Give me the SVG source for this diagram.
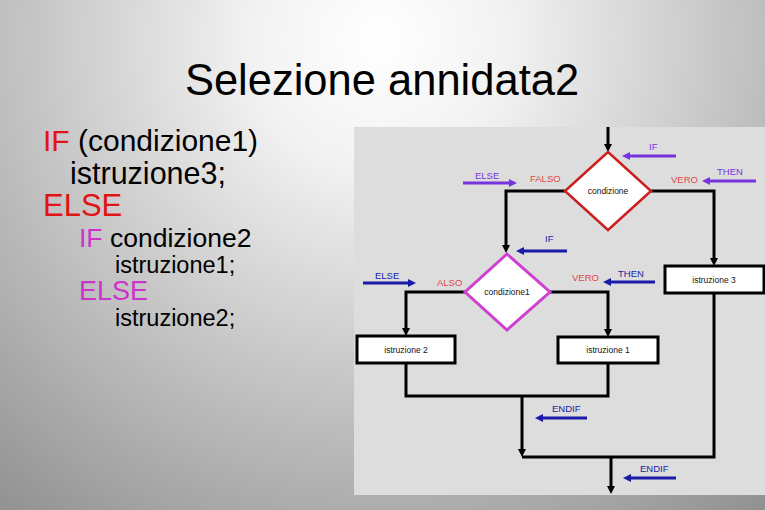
<svg xmlns="http://www.w3.org/2000/svg" width="765" height="510" viewBox="0 0 765 510">
<defs>
<radialGradient id="bg" gradientUnits="userSpaceOnUse" cx="380" cy="40" r="640">
<stop offset="0" stop-color="#ffffff"/>
<stop offset="0.2" stop-color="#f2f2f2"/>
<stop offset="1" stop-color="#8a8a8a"/>
</radialGradient>
<marker id="ak" markerUnits="userSpaceOnUse" markerWidth="9" markerHeight="8" refX="2" refY="4" orient="auto"><path d="M0,0 L8,4 L0,8 z" fill="#000"/></marker>
<marker id="ap" markerUnits="userSpaceOnUse" markerWidth="9" markerHeight="8" refX="2" refY="4" orient="auto"><path d="M0,0 L8,4 L0,8 z" fill="#7733dd"/></marker>
<marker id="ab" markerUnits="userSpaceOnUse" markerWidth="9" markerHeight="8" refX="2" refY="4" orient="auto"><path d="M0,0 L8,4 L0,8 z" fill="#1a1aa8"/></marker>
</defs>
<style>
.t{font-family:"Liberation Sans",Arial,sans-serif}
.red{fill:#e01414}
.pink{fill:#cc33cc}
.blk{fill:#000}
.conn{fill:none;stroke:#000;stroke-width:3}
.box{fill:#fff;stroke:#000;stroke-width:3}
.nt{font-family:"Liberation Sans",Arial,sans-serif;font-size:8.5px;fill:#111;text-anchor:middle}
.lb{font-family:"Liberation Sans",Arial,sans-serif;font-size:9.5px}
.lp{fill:#7733dd}
.lbl{fill:#1a1aa8}
.lr{fill:#e04848}
.pa{fill:none;stroke:#7733dd;stroke-width:3;marker-end:url(#ap)}
.ba{fill:none;stroke:#1a1aa8;stroke-width:3;marker-end:url(#ab)}
</style>
<rect x="0" y="0" width="765" height="510" fill="url(#bg)"/>
<text class="t" x="382" y="95" font-size="43.5" text-anchor="middle" fill="#000">Selezione annidata2</text>
<g id="code" class="t">
<text x="43" y="151" font-size="30"><tspan class="red">IF</tspan><tspan class="blk"> (condizione1)</tspan></text>
<text x="70" y="184" font-size="30.5" class="blk">istruzione3;</text>
<text x="43" y="216" font-size="31" class="red">ELSE</text>
<text x="79" y="247" font-size="26.5"><tspan class="pink">IF</tspan><tspan class="blk"> condizione2</tspan></text>
<text x="115" y="273" font-size="23.5" class="blk">istruzione1;</text>
<text x="79" y="300" font-size="27" class="pink">ELSE</text>
<text x="115" y="326" font-size="23.5" class="blk">istruzione2;</text>
</g>
<rect x="354" y="127" width="411" height="368" fill="#dddddd"/>
<g id="connectors">
<path class="conn" d="M608,127 V146" marker-end="url(#ak)"/>
<path class="conn" d="M565,191 H506 V247" marker-end="url(#ak)"/>
<path class="conn" d="M651,191 H714 V260" marker-end="url(#ak)"/>
<path class="conn" d="M465,292 H406 V330" marker-end="url(#ak)"/>
<path class="conn" d="M550,292 H608 V331" marker-end="url(#ak)"/>
<path class="conn" d="M406,363 V396 H608 V363"/>
<path class="conn" d="M522,396 V451" marker-end="url(#ak)"/>
<path class="conn" d="M714,293 V457 H522"/>
<path class="conn" d="M611,457 V488" marker-end="url(#ak)"/>
</g>
<g id="cond1">
<polygon points="608,152 651,191 608,230 565,191" fill="#fff" stroke="#cc2020" stroke-width="2.5"/>
<text class="nt" x="608" y="194">condizione</text>
</g>
<g id="cond2">
<polygon points="507,254 550,292 507,330 465,292" fill="#fff" stroke="#d040d0" stroke-width="3"/>
<text class="nt" x="507" y="295">condizione1</text>
</g>
<g id="istr3">
<rect class="box" x="665" y="266" width="99" height="27"/>
<text class="nt" x="714" y="283">istruzione 3</text>
</g>
<g id="istr2">
<rect class="box" x="357" y="336" width="98" height="27"/>
<text class="nt" x="406" y="353">istruzione 2</text>
</g>
<g id="istr1">
<rect class="box" x="558" y="337" width="100" height="26"/>
<text class="nt" x="608" y="353">istruzione 1</text>
</g>
<g id="labels">
<path class="pa" d="M676,156 H628"/>
<text class="lb lp" x="649" y="150">IF</text>
<path class="pa" d="M756,181 H708"/>
<text class="lb lp" x="717" y="175">THEN</text>
<text class="lb lr" x="671" y="183">VERO</text>
<path class="pa" d="M463,183 H511"/>
<text class="lb lp" x="475" y="179">ELSE</text>
<text class="lb lr" x="530" y="182">FALSO</text>
<path class="ba" d="M567,251 H522"/>
<text class="lb lbl" x="545" y="242">IF</text>
<path class="ba" d="M363,283 H410"/>
<text class="lb lbl" x="375" y="279">ELSE</text>
<text class="lb lr" x="437" y="286">ALSO</text>
<text class="lb lr" x="572" y="281">VERO</text>
<path class="ba" d="M655,282 H609"/>
<text class="lb lbl" x="618" y="277">THEN</text>
<path class="ba" d="M587,418 H541"/>
<text class="lb lbl" x="552" y="412">ENDIF</text>
<path class="ba" d="M676,478 H629"/>
<text class="lb lbl" x="640" y="472">ENDIF</text>
</g>
</svg>
